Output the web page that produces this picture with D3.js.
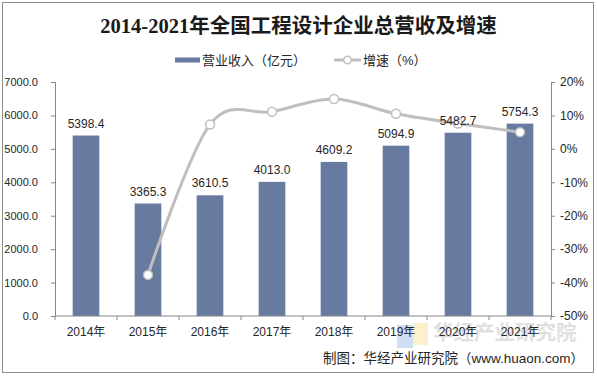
<!DOCTYPE html>
<html><head><meta charset="utf-8">
<script src="https://cdn.jsdelivr.net/npm/d3@7"></script>
<style>
html,body{margin:0;padding:0;background:#fff;}
svg{display:block;}
text{font-family:"Liberation Sans","Noto Sans CJK SC",sans-serif;}
</style></head>
<body>
<script>
const categories = ["2014年","2015年","2016年","2017年","2018年","2019年","2020年","2021年"];
const revenue = [5398.4,3365.3,3610.5,4013.0,4609.2,5094.9,5482.7,5754.3];
const growth = [null,-37.7,7.3,11.1,14.9,10.5,7.6,5.0];
const leftTicks = [0,1000,2000,3000,4000,5000,6000,7000];
const rightTicks = [-50,-40,-30,-20,-10,0,10,20];
const titleText = "2014-2021年全国工程设计企业总营收及增速";
const legendLabels = ["营业收入（亿元）","增速（%）"];
const sourceText = "制图：华经产业研究院（www.huaon.com）";
const watermarkText = "华经产业研究院";

const W=597,H=377;
const svg=d3.select("body").append("svg").attr("width",W).attr("height",H);
svg.append("rect").attr("x",2.5).attr("y",2.5).attr("width",591).attr("height",370)
  .attr("fill","#fff").attr("stroke","#8c8c8c").attr("stroke-width",1);

const m={l:55,r:551,t:82,b:316};
const x=d3.scaleBand().domain(categories).range([m.l,m.r]);
const yL=d3.scaleLinear().domain([0,7000]).range([m.b,m.t]);
const yR=d3.scaleLinear().domain([-50,20]).range([m.b,m.t]);
const barColor="#677ba0", lineColor="#bfbfbf", axisColor="#868686", txt="#262626";

// title
svg.append("text").attr("x",298.5).attr("y",33).attr("text-anchor","middle")
  .style("font-family",'"Liberation Serif","Noto Sans CJK SC",serif')
  .style("font-weight","bold").style("font-size","20.5px").attr("fill","#1a1a1a").text(titleText);

// legend
const lg=svg.append("g");
lg.append("rect").attr("x",175).attr("y",57.5).attr("width",25).attr("height",5).attr("fill",barColor);
lg.append("text").attr("x",202).attr("y",65).style("font-size","13px").attr("fill",txt).text(legendLabels[0]);
lg.append("line").attr("x1",334).attr("x2",361).attr("y1",60).attr("y2",60).attr("stroke",lineColor).attr("stroke-width",3);
lg.append("circle").attr("cx",347.5).attr("cy",60).attr("r",3.8).attr("fill","#fff").attr("stroke",lineColor).attr("stroke-width",1.5);
lg.append("text").attr("x",363).attr("y",65).style("font-size","13px").attr("fill",txt).text(legendLabels[1]);

// watermark
const wm=svg.append("g").attr("opacity",0.55);
wm.append("rect").attr("x",397).attr("y",325).attr("width",16).attr("height",23).attr("fill","#a9c8f0");
wm.append("rect").attr("x",413).attr("y",323).attr("width",15).attr("height",22).attr("fill","#f8e7a6");
wm.append("text").attr("x",433).attr("y",340).style("font-size","20.5px").style("font-weight","bold").attr("fill","#c8c8c8").text(watermarkText);

// bars
svg.append("g").selectAll("rect").data(revenue).join("rect")
  .attr("x",(d,i)=>x(categories[i])+x.bandwidth()*0.285)
  .attr("width",x.bandwidth()*0.43)
  .attr("y",d=>yL(d)).attr("height",d=>yL(0)-yL(d)).attr("fill",barColor);

// axes
const axL=svg.append("g").attr("transform",`translate(${m.l},0)`)
  .call(d3.axisLeft(yL).tickValues(leftTicks).tickFormat(d3.format(".1f")).tickSize(4).tickPadding(13));
const axR=svg.append("g").attr("transform",`translate(${m.r},0)`)
  .call(d3.axisRight(yR).tickValues(rightTicks).tickFormat(d=>d+"%").tickSize(4).tickPadding(5));
const axB=svg.append("g").attr("transform",`translate(0,${m.b})`)
  .call(d3.axisBottom(x).tickSize(0).tickPadding(11));
// category boundary ticks
svg.append("g").selectAll("line").data(d3.range(categories.length+1)).join("line")
  .attr("x1",i=>m.l+i*x.step()).attr("x2",i=>m.l+i*x.step())
  .attr("y1",m.b).attr("y2",m.b+4).attr("stroke",axisColor);
[axL,axR,axB].forEach(a=>{
  a.select(".domain").attr("stroke",axisColor);
  a.selectAll(".tick line").attr("stroke",axisColor);
  a.selectAll("text").attr("fill",txt).style("font-size","12px")
   .style("font-family",'"Liberation Sans","Noto Sans CJK SC",sans-serif');
});
axL.selectAll("text").style("font-size","11px");
axB.select(".domain").attr("d",`M${m.l},0H${m.r}`);

// line
const pts=growth.map((g,i)=>g==null?null:[x(categories[i])+x.bandwidth()/2,yR(g)]).filter(p=>p);
svg.append("path").attr("d",d3.line().curve(d3.curveCardinal.tension(0))(pts))
  .attr("fill","none").attr("stroke",lineColor).attr("stroke-width",3);
svg.append("g").selectAll("circle").data(pts).join("circle")
  .attr("cx",p=>p[0]).attr("cy",p=>p[1]).attr("r",4.5)
  .attr("fill","#fff").attr("stroke",lineColor).attr("stroke-width",1.5);

// bar labels
svg.append("g").selectAll("text").data(revenue).join("text")
  .attr("x",(d,i)=>x(categories[i])+x.bandwidth()/2).attr("y",d=>yL(d)-8)
  .attr("text-anchor","middle").style("font-size","12px").attr("fill",txt).text(d=>d.toFixed(1));

// source
svg.append("text").attr("x",584).attr("y",363).attr("text-anchor","end")
  .style("font-size","13.5px").attr("fill",txt).text(sourceText);
</script>
</body></html>
